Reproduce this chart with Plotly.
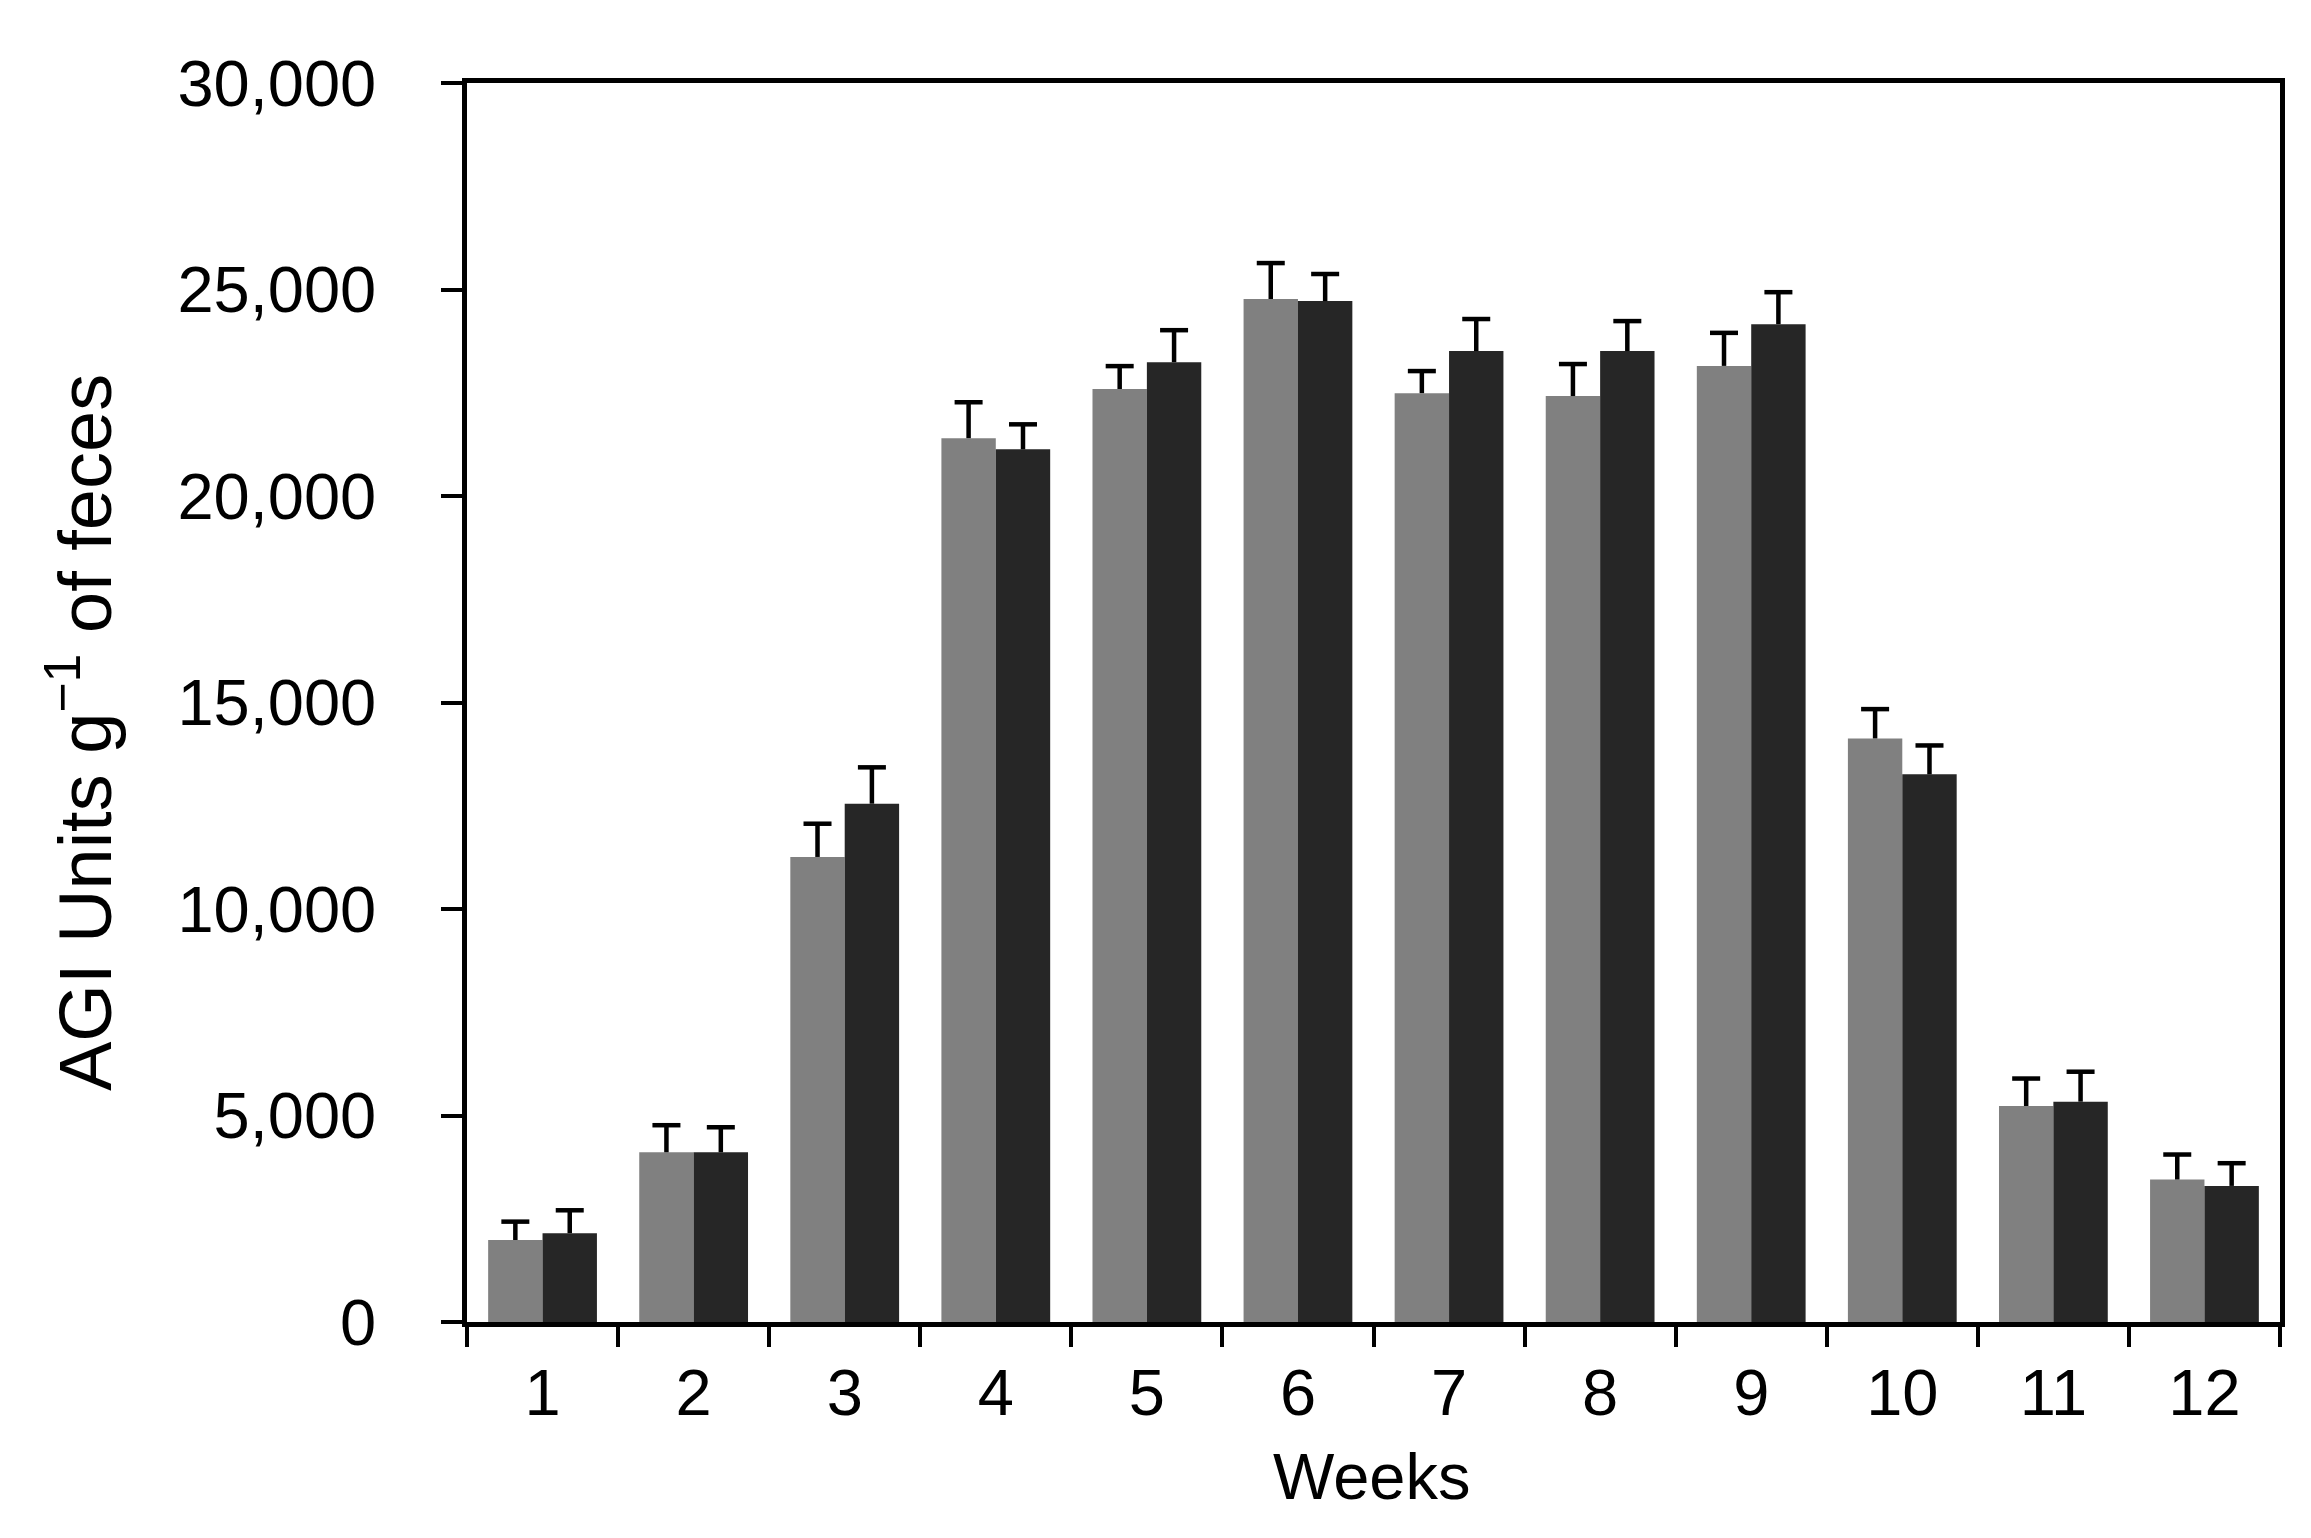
import plotly.graph_objects as go

weeks = ["1", "2", "3", "4", "5", "6", "7", "8", "9", "10", "11", "12"]
grey_vals = [1985, 4110, 11260, 21400, 22590, 24770, 22490, 22420, 23150, 14130, 5230, 3450]
grey_err = [445, 655, 805, 870, 555, 870, 535, 775, 800, 710, 665, 605]
dark_vals = [2150, 4110, 12550, 21130, 23240, 24720, 23510, 23510, 24160, 13260, 5335, 3295]
dark_err = [555, 605, 880, 605, 775, 655, 775, 725, 775, 700, 725, 550]
y_ticks = [0, 5000, 10000, 15000, 20000, 25000, 30000]

FONT = "Liberation Sans, Arial, sans-serif"
GAP = 0.28

fig = go.Figure()
series = [(grey_vals, grey_err, "#808080"), (dark_vals, dark_err, "#262626")]
for vals, errs, color in series:
    fig.add_trace(go.Bar(
        x=weeks, y=vals,
        marker=dict(color=color, line=dict(width=0)),
        error_y=dict(type="data", array=errs, symmetric=False,
                     color="black", thickness=4.5, width=0),
        showlegend=False, hoverinfo="skip",
    ))
# caps on top of the error bars (upper end only, as in the reference)
for vals, errs, color in series:
    fig.add_trace(go.Scatter(
        x=weeks, y=[v + e for v, e in zip(vals, errs)],
        mode="markers",
        marker=dict(symbol="line-ew", size=20, color="black",
                    line=dict(width=4.5, color="black")),
        showlegend=False, hoverinfo="skip", cliponaxis=False,
    ))

L, R, T, B = 459, 2272, 75, 1314
W, H = 2311, 1538

fig.update_layout(
    width=W, height=H,
    margin=dict(l=L, r=W - R, t=T, b=H - B, pad=0),
    paper_bgcolor="white", plot_bgcolor="white",
    barmode="group", bargap=GAP, bargroupgap=0,
    scattermode="group", scattergap=GAP,
    font=dict(family=FONT, size=65, color="black"),
)
fig.update_xaxes(
    type="category", tickson="boundaries", ticks="outside", ticklen=20, tickwidth=3.5,
    tickcolor="black", showline=True, linecolor="black", linewidth=4.5, mirror=True,
    showgrid=False, zeroline=False, ticklabelstandoff=10,
    tickfont=dict(family=FONT, size=65, color="black"),
)
fig.update_yaxes(
    range=[0, 30000], tickvals=y_ticks, ticktext=[f"{v:,}" for v in y_ticks],
    ticks="outside", ticklen=21, tickwidth=3.5, tickcolor="black",
    showline=True, linecolor="black", linewidth=4.5, mirror=True,
    showgrid=False, zeroline=False, ticklabelstandoff=52,
    tickfont=dict(family=FONT, size=65, color="black"),
)

fig.add_annotation(
    text="Weeks", xref="paper", yref="paper",
    x=(1363 - L) / (R - L), y=(B - 1468) / (B - T),
    xanchor="center", yanchor="middle", showarrow=False,
    font=dict(family=FONT, size=65, color="black"),
)
fig.add_annotation(
    text="AGI Units g<sup>\u22121</sup> of feces", xref="paper", yref="paper",
    x=(72 - L) / (R - L), y=(B - 725) / (B - T),
    xanchor="center", yanchor="middle", textangle=-90, showarrow=False,
    font=dict(family=FONT, size=74, color="black"),
)

fig.write_html("out.html")
